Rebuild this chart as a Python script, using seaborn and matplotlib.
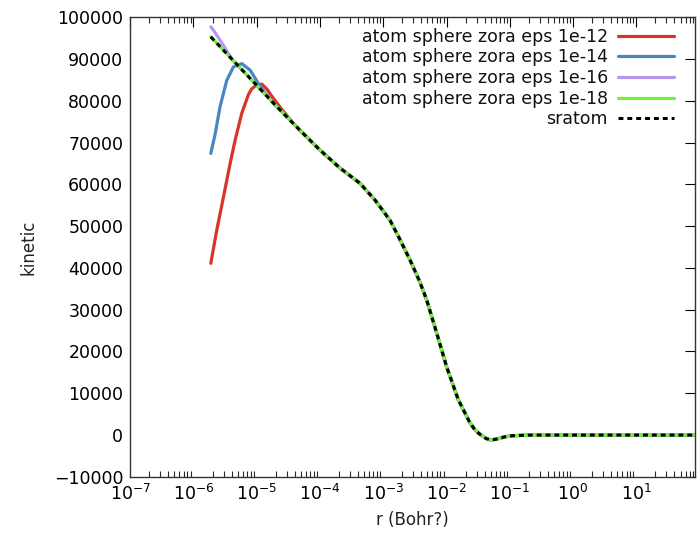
import matplotlib as mpl

mpl.use("Agg")

import matplotlib.pyplot as plt
import numpy as np
import seaborn as sns
from matplotlib.ticker import FixedLocator, LogLocator, NullFormatter

sns.set_theme(style="white")
plt.rcParams["font.family"] = ["DejaVu Sans"]

# reference (sratom) curve, also what eps 1e-18 converges to
r_ref = [1.88e-6, 3e-6, 5e-6, 1e-5, 2e-5, 4.85e-5, 1e-4, 2.07e-4, 4.3e-4, 7.4e-4, 1e-3,
         1.28e-3, 1.74e-3, 2.65e-3, 3.8e-3, 4.86e-3, 7e-3, 1e-2, 1.53e-2, 2.35e-2, 2.8e-2,
         3.3e-2, 3.8e-2, 4.2e-2, 4.9e-2, 5.8e-2, 7e-2, 8.5e-2, 0.11, 0.2, 0.4, 1.0, 10.0, 85.0]
kin_ref = [95300, 92050, 88500, 83700, 78850, 72900, 68200, 63900, 60230, 56250, 53600,
           51400, 47500, 41900, 36600, 32300, 24400, 16400, 8500, 2900, 1300,
           300, -350, -800, -1140, -1050, -740, -400, -150, -20, 0, 0, 0, 0]

# small-r part of the looser eps runs (they join the reference afterwards)
r_eps12 = [1.88e-6, 2.34e-6, 2.98e-6, 3.8e-6, 4.56e-6, 5.8e-6, 7.4e-6, 8.3e-6, 9.4e-6,
           1.2e-5, 1.45e-5, 1.73e-5, 2.5e-5, 3.6e-5]
kin_eps12 = [41100, 49100, 57000, 65000, 70600, 77000, 81500, 82800, 83500,
             84000, 82800, 81100, 77900, 75000]

r_eps14 = [1.88e-6, 2.2e-6, 2.63e-6, 3.36e-6, 4.28e-6, 5.8e-6, 7.9e-6, 1.06e-5, 1.44e-5]
kin_eps14 = [67400, 72000, 78550, 84900, 88100, 88900, 87300, 84150, 81300]

r_eps16 = [1.88e-6, 2.2e-6, 2.63e-6, 3.1e-6, 3.57e-6, 4.2e-6]
kin_eps16 = [97700, 96300, 94500, 92800, 91300, 89700]

labels = ["atom sphere zora eps 1e-12", "atom sphere zora eps 1e-14",
          "atom sphere zora eps 1e-16", "atom sphere zora eps 1e-18", "sratom"]
colors = ["#d8352a", "#4a86c0", "#b896f0", "#72f03c", "black"]


def with_tail(r_head, k_head):
    tail = [i for i, r in enumerate(r_ref) if r > r_head[-1]]
    return r_head + [r_ref[i] for i in tail], k_head + [kin_ref[i] for i in tail]


series = [with_tail(r_eps12, kin_eps12), with_tail(r_eps14, kin_eps14),
          with_tail(r_eps16, kin_eps16), (r_ref, kin_ref), (r_ref, kin_ref)]

fig = plt.figure(figsize=(7, 5.37), dpi=100)
ax = fig.add_axes([0.186, 0.112, 0.807, 0.856])

for (x, y), lab, col in zip(series, labels, colors):
    lw = 2.2 if lab == "sratom" else 2.3
    sns.lineplot(x=x, y=y, color=col, label=lab, estimator=None, sort=False,
                 linewidth=lw, ax=ax)
    if lab == "sratom":
        ax.lines[-1].set_dashes((1.6, 1.3))

ax.set_xscale("log")
ax.set_xlim(1e-7, 85)
ax.set_ylim(-10000, 100000)
ax.set_yticks(np.arange(-10000, 100001, 10000))
ax.xaxis.set_major_locator(FixedLocator([10.0 ** e for e in range(-7, 2)]))
ax.xaxis.set_major_formatter(mpl.ticker.FuncFormatter(lambda v, _: f"$10^{{{int(round(np.log10(v)))}}}$"))
ax.xaxis.set_minor_locator(LogLocator(base=10, subs=np.arange(2, 10), numticks=20))
ax.xaxis.set_minor_formatter(NullFormatter())

ax.tick_params(axis="both", which="major", direction="in", length=7, width=0.8,
               top=True, right=True, labelsize=12.5, colors="black", pad=5)
ax.tick_params(axis="x", which="minor", direction="in", length=4, width=0.8, top=True, bottom=True)
for s in ax.spines.values():
    s.set_color("#333333")
    s.set_linewidth(1.0)

ax.set_xlabel("r (Bohr?)", fontsize=12, labelpad=5, color="#222222")
ax.set_ylabel("kinetic", fontsize=12, labelpad=12, color="#222222")

leg = ax.legend(loc="upper right", bbox_to_anchor=(0.9725, 0.961), bbox_transform=fig.transFigure,
                frameon=False, markerfirst=False, fontsize=12.5, handlelength=3.2,
                handletextpad=0.6, labelspacing=0.15, borderaxespad=0)
for t in leg.get_texts():
    t.set_color("#111111")

fig.savefig("out.png", dpi=100)
